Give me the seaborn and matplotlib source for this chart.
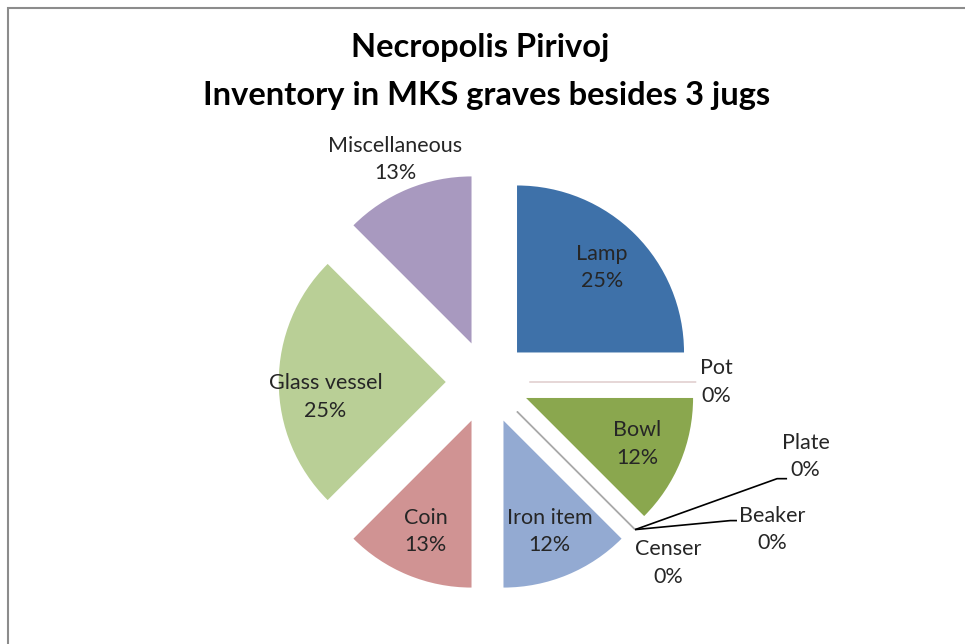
import numpy as np
import matplotlib
matplotlib.use("Agg")
import matplotlib.pyplot as plt
import seaborn as sns
from matplotlib.patches import Rectangle

sns.set_theme(style="white")
plt.rcParams['font.family'] = ['Lato', 'DejaVu Sans']

# data (counts of grave goods)
categories = ["Lamp", "Pot", "Bowl", "Plate", "Beaker", "Censer",
              "Iron item", "Coin", "Glass vessel", "Miscellaneous"]
counts = [8, 0, 4, 0, 0, 0, 4, 4, 8, 4]
pct_labels = ["25%", "0%", "12%", "0%", "0%", "0%", "12%", "13%", "25%", "13%"]
colors = ["#3E71A9", "#B65552", "#8AA74E", "#6E5790", "#3E95AE", "#E08436",
          "#93AAD2", "#D09393", "#B9CF96", "#A899BF"]

# layout of label placement
inside = ["Lamp", "Bowl", "Iron item", "Coin", "Glass vessel"]
nudge = {"Glass vessel": (0.0, -0.09)}
outside_dist = {"Pot": 1.12, "Miscellaneous": 1.19}
# labels attached to the shared tip of the zero slices (offset from tip, leader bend)
tip_labels = {"Plate": ((1.02, 0.44), (0.85, 0.305), (0.91, 0.305)),
              "Beaker": ((0.82, 0.0), (0.57, 0.054), (0.61, 0.054)),
              "Censer": ((0.20, -0.20), None, None)}

W, H = 965, 644
R = 167.0
cx, cy = 487.5, 382.0

fig = plt.figure(figsize=(W / 100, H / 100), dpi=100)
ax = fig.add_axes([0, 0, 1, 1])

wedges, _ = ax.pie(counts, colors=colors, explode=[0.25] * len(counts),
                   startangle=90, counterclock=False, radius=1,
                   wedgeprops=dict(linewidth=0))
ax.set_xlim(-cx / R, (W - cx) / R)
ax.set_ylim(-(H - cy) / R, cy / R)
ax.set_aspect("equal")
ax.axis("off")

edge_col = {"Pot": "#dcc6c6", "Plate": "#aaaaaa", "Beaker": "#aaaaaa", "Censer": "#aaaaaa"}
lab_kw = dict(ha="center", va="center", fontsize=15.5, color="#262626", linespacing=1.45)
for w, name, pct, val in zip(wedges, categories, pct_labels, counts):
    mid = np.deg2rad((w.theta1 + w.theta2) / 2)
    x0, y0 = w.center
    if val == 0:
        w.set_edgecolor(edge_col[name])
        w.set_linewidth(1.0)
    txt = f"{name}\n{pct}"
    if name in inside:
        dx, dy = nudge.get(name, (0, 0))
        ax.text(x0 + 0.72 * np.cos(mid) + dx, y0 + 0.72 * np.sin(mid) + dy, txt, **lab_kw)
    elif name in outside_dist:
        d = outside_dist[name]
        ax.text(x0 + d * np.cos(mid), y0 + d * np.sin(mid), txt, **lab_kw)
    else:
        tx, ty = x0 + np.cos(mid), y0 + np.sin(mid)
        (ox, oy), bend, end = tip_labels[name]
        ax.text(tx + ox, ty + oy, txt, **lab_kw)
        if bend is not None:
            ax.plot([tx, tx + bend[0], tx + end[0]], [ty, ty + bend[1], ty + end[1]],
                    color="black", lw=1.2, solid_capstyle="butt")

fig.text(0.498, 1 - 48 / H, "Necropolis Pirivoj", ha="center", va="center",
         fontsize=23.5, fontweight="bold", color="black")
fig.text(0.504, 1 - 95 / H, "Inventory in MKS graves besides 3 jugs", ha="center",
         va="center", fontsize=23.5, fontweight="bold", color="black")

# chart area border
fig.add_artist(Rectangle((8 / W, -0.1), 1.2, 1.1 - 8 / H, transform=fig.transFigure,
                         fill=False, edgecolor="#8c8c8c", linewidth=1.5))

fig.savefig("out.png", dpi=100, facecolor="white")
